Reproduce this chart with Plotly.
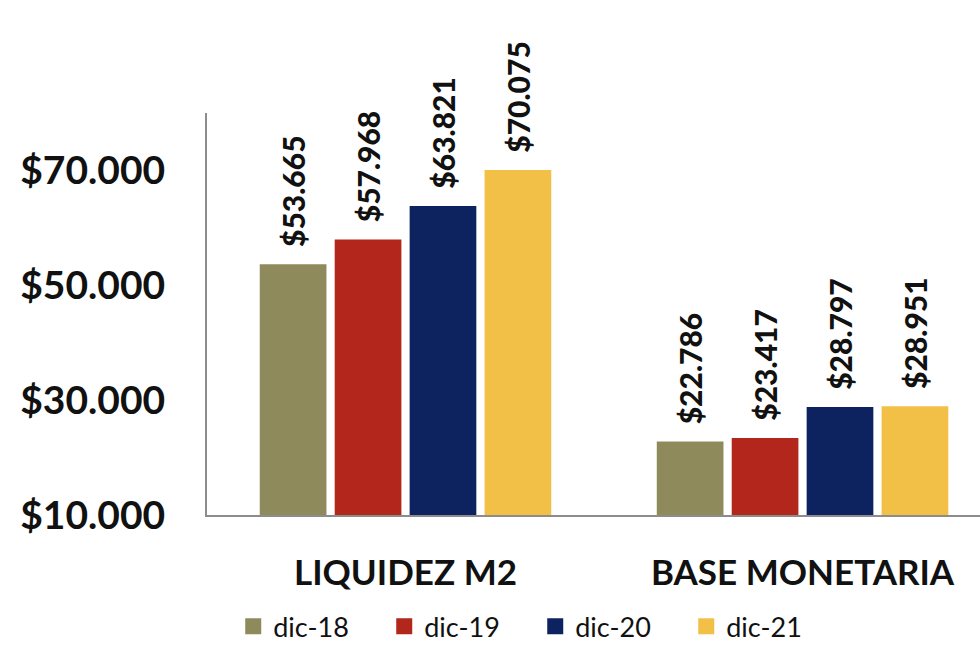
import plotly.graph_objects as go

# Categories, series and tick labels
categories = ["LIQUIDEZ M2", "BASE MONETARIA"]
series_names = ["dic-18", "dic-19", "dic-20", "dic-21"]
dic18 = [53665, 22786]
dic19 = [57968, 23417]
dic20 = [63821, 28797]
dic21 = [70075, 28951]
series_values = [dic18, dic19, dic20, dic21]
tick_values = [10000, 30000, 50000, 70000]
tick_labels = ["$10.000", "$30.000", "$50.000", "$70.000"]

colors = ["#8F8A5B", "#B3261B", "#0C2360", "#F2C046"]
FONT = "Lato"

fig = go.Figure()
for name, vals, col in zip(series_names, series_values, colors):
    fig.add_trace(go.Bar(
        name=name,
        x=categories,
        y=[v - 10000 for v in vals],
        base=10000,
        customdata=vals,
        marker=dict(color=col, line=dict(width=0)),
        texttemplate="\u00a0\u00a0$%{customdata:,.0f}",
        textposition="outside",
        textangle=-90,
        constraintext="none",
        cliponaxis=False,
        textfont=dict(family=FONT, size=30, color="#111111", weight=900),
        hoverinfo="skip",
        showlegend=False,
    ))
    # legend entry with a larger square swatch
    fig.add_trace(go.Scatter(
        name=name, x=[None], y=[None], mode="markers",
        marker=dict(symbol="square", size=17, color=col),
        showlegend=True, hoverinfo="skip",
    ))

fig.update_layout(
    width=980, height=646,
    margin=dict(l=207, r=0, t=113, b=131, autoexpand=False),
    paper_bgcolor="white", plot_bgcolor="white",
    barmode="group",
    bargap=0.245,
    bargroupgap=0.11,
    separators=",.",
    showlegend=True,
    legend=dict(
        orientation="h",
        x=0.238, xanchor="left", xref="container",
        y=0.03, yanchor="middle", yref="container",
        font=dict(family=FONT, size=27, color="#111111"),
        itemwidth=30,
        entrywidth=106, entrywidthmode="pixels",
        tracegroupgap=0,
        traceorder="normal",
        bgcolor="rgba(0,0,0,0)",
    ),
    font=dict(family=FONT, color="#111111"),
)

fig.update_xaxes(
    range=[-0.5, 1.447],
    showline=True, linecolor="#8c8c8c", linewidth=2,
    ticks="", showgrid=False,
    tickfont=dict(family=FONT, size=35, color="#111111", weight="bold"),
    ticklabelstandoff=26,
)
fig.update_yaxes(
    range=[10000, 80000],
    tickvals=tick_values, ticktext=tick_labels,
    showline=True, linecolor="#8c8c8c", linewidth=2,
    ticks="", showgrid=False, zeroline=False,
    tickfont=dict(family=FONT, size=39, color="#111111", weight="bold"),
    ticklabelstandoff=32,
)

fig.write_html("out.html")
